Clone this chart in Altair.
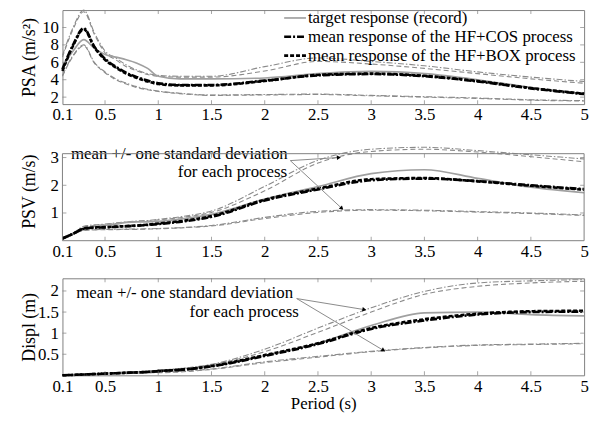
import altair as alt
import pandas as pd

# ---------------- data ----------------
T = [0.1, 0.2, 0.3, 0.4, 0.5, 0.6, 0.7, 0.8, 0.9, 1.0, 1.2, 1.5, 2.0, 2.5, 3.0, 3.5, 4.0, 4.5, 5.0]

psa_target   = [5.5, 7.3, 8.6, 7.6, 6.9, 6.6, 6.3, 5.9, 5.3, 4.4, 4.1, 4.1, 4.2, 4.7, 4.95, 4.7, 4.0, 3.1, 2.4]
psa_mean_cos = [5.2, 8.0, 9.9, 7.8, 6.4, 5.5, 4.8, 4.3, 3.9, 3.6, 3.4, 3.4, 3.9, 4.5, 4.65, 4.4, 3.8, 3.0, 2.35]
psa_mean_box = [5.0, 7.9, 9.8, 7.7, 6.3, 5.4, 4.7, 4.2, 3.8, 3.5, 3.35, 3.35, 3.85, 4.55, 4.7, 4.45, 3.85, 3.05, 2.4]
psa_up_cos   = [6.8, 10.0, 12.0, 9.4, 7.3, 6.5, 5.7, 5.1, 4.7, 4.5, 4.4, 4.4, 5.5, 6.5, 6.1, 5.6, 4.9, 4.3, 3.8]
psa_up_box   = [6.6, 9.8, 11.8, 9.2, 7.1, 6.3, 5.5, 5.0, 4.6, 4.4, 4.3, 4.3, 5.0, 6.1, 5.8, 5.3, 4.7, 4.1, 3.6]
psa_lo_cos   = [4.5, 6.8, 8.0, 6.0, 4.9, 4.1, 3.6, 3.2, 2.9, 2.7, 2.45, 2.25, 2.3, 2.35, 2.2, 2.05, 1.9, 1.7, 1.6]
psa_lo_box   = [4.4, 6.7, 7.9, 5.9, 4.8, 4.0, 3.5, 3.1, 2.85, 2.65, 2.4, 2.2, 2.25, 2.3, 2.15, 2.0, 1.85, 1.65, 1.55]

psv_target   = [0.09, 0.25, 0.42, 0.52, 0.56, 0.6, 0.66, 0.68, 0.68, 0.7, 0.78, 0.95, 1.5, 1.95, 2.42, 2.56, 2.25, 1.93, 1.73]
psv_mean_cos = [0.08, 0.25, 0.43, 0.47, 0.48, 0.5, 0.52, 0.54, 0.57, 0.6, 0.68, 0.86, 1.45, 1.85, 2.18, 2.24, 2.15, 2.0, 1.86]
psv_mean_box = [0.08, 0.25, 0.44, 0.48, 0.49, 0.51, 0.53, 0.55, 0.58, 0.62, 0.7, 0.89, 1.48, 1.88, 2.22, 2.26, 2.14, 1.98, 1.84]
psv_up_cos   = [0.1, 0.28, 0.52, 0.57, 0.6, 0.64, 0.68, 0.71, 0.73, 0.77, 0.86, 1.07, 1.96, 2.9, 3.3, 3.37, 3.25, 3.1, 2.95]
psv_up_box   = [0.1, 0.27, 0.5, 0.55, 0.58, 0.62, 0.66, 0.69, 0.71, 0.75, 0.83, 1.02, 1.8, 2.8, 3.22, 3.3, 3.2, 3.03, 2.85]
psv_lo_cos   = [0.07, 0.22, 0.38, 0.4, 0.41, 0.41, 0.42, 0.42, 0.43, 0.44, 0.47, 0.55, 0.84, 1.06, 1.12, 1.1, 1.05, 1.0, 0.93]
psv_lo_box   = [0.07, 0.22, 0.37, 0.39, 0.4, 0.4, 0.41, 0.41, 0.42, 0.43, 0.46, 0.53, 0.8, 1.02, 1.1, 1.08, 1.03, 0.98, 0.91]

sd_target    = [0.0, 0.01, 0.02, 0.03, 0.04, 0.05, 0.07, 0.08, 0.09, 0.11, 0.15, 0.22, 0.47, 0.76, 1.18, 1.48, 1.5, 1.44, 1.41]
sd_mean_cos  = [0.0, 0.01, 0.02, 0.03, 0.04, 0.05, 0.06, 0.07, 0.08, 0.1, 0.13, 0.21, 0.46, 0.74, 1.1, 1.3, 1.44, 1.5, 1.51]
sd_mean_box  = [0.0, 0.01, 0.02, 0.03, 0.04, 0.05, 0.06, 0.07, 0.08, 0.1, 0.13, 0.22, 0.48, 0.76, 1.12, 1.33, 1.46, 1.52, 1.53]
sd_up_cos    = [0.0, 0.01, 0.02, 0.04, 0.05, 0.06, 0.08, 0.09, 0.1, 0.12, 0.16, 0.26, 0.62, 1.12, 1.6, 1.99, 2.19, 2.24, 2.27]
sd_up_box    = [0.0, 0.01, 0.02, 0.03, 0.05, 0.06, 0.07, 0.08, 0.09, 0.11, 0.15, 0.25, 0.56, 1.02, 1.5, 1.92, 2.11, 2.19, 2.23]
sd_lo_cos    = [0.0, 0.01, 0.02, 0.03, 0.03, 0.04, 0.05, 0.05, 0.06, 0.07, 0.09, 0.15, 0.32, 0.45, 0.57, 0.66, 0.72, 0.74, 0.76]
sd_lo_box    = [0.0, 0.01, 0.02, 0.02, 0.03, 0.04, 0.04, 0.05, 0.06, 0.06, 0.08, 0.14, 0.3, 0.43, 0.56, 0.65, 0.71, 0.73, 0.75]

x_ticks = [0.1, 0.5, 1, 1.5, 2, 2.5, 3, 3.5, 4, 4.5, 5]
psa_ticks = [2, 4, 6, 8, 10]
psv_ticks = [1, 2, 3]
sd_ticks = [0.5, 1, 1.5, 2]

legend_labels = ["target response (record)",
                 "mean response of the HF+COS process",
                 "mean response of the HF+BOX process"]
note_line1 = "mean +/- one standard deviation"
note_line2 = "for each process"

# annotation anchors in data units (period, response)
psv_note1 = (0.18, 3.14)
psv_note2 = (2.21, 2.49)
psv_arrow_start = (2.24, 2.89)
psv_arrow_tips = [(2.69, 3.0), (2.72, 1.18)]
sd_note1 = (0.23, 1.96)
sd_note2 = (2.32, 1.49)
sd_arrow_start = (2.30, 1.82)
sd_arrow_tips = [(2.93, 1.56), (3.11, 0.60)]

# ---------------- styling ----------------
FONT = "Liberation Serif, Times New Roman, Tinos, DejaVu Serif, serif"
W = 527
GRAY_BOX = "#808080"
STY = {
    "up_cos":   dict(color="#8a8a8a", strokeWidth=1.1, strokeDash=[6, 2, 1.5, 2]),
    "lo_cos":   dict(color="#8a8a8a", strokeWidth=1.1, strokeDash=[6, 2, 1.5, 2]),
    "up_box":   dict(color="#8a8a8a", strokeWidth=1.1, strokeDash=[5, 3]),
    "lo_box":   dict(color="#8a8a8a", strokeWidth=1.1, strokeDash=[5, 3]),
    "target":   dict(color="#a0a0a0", strokeWidth=1.7),
    "mean_cos": dict(color="#000000", strokeWidth=2.6, strokeDash=[7, 2, 2, 2]),
    "mean_box": dict(color="#000000", strokeWidth=2.6, strokeDash=[4, 2]),
}
ORDER = ["up_cos", "lo_cos", "up_box", "lo_box", "target", "mean_cos", "mean_box"]
LABEL_EXPR = "datum.value + ''"


def frame(series):
    rows = []
    for name, vals in series.items():
        for t, v in zip(T, vals):
            rows.append({"T": t, "v": v, "series": name})
    return pd.DataFrame(rows)


def panel(series, ydomain, height, yticks, ytitle, xtitle, box_top, note=None, extra=None, view=None):
    df = frame(series)
    xs = alt.Scale(domain=[0.1, 5], nice=False, zero=False)
    ys = alt.Scale(domain=ydomain, nice=False, zero=False)
    xaxis = alt.Axis(values=x_ticks, labelExpr=LABEL_EXPR, labelFlush=False, labelOverlap=False,
                     title=xtitle, titlePadding=2, labelPadding=3)
    yaxis = alt.Axis(values=yticks, labelExpr=LABEL_EXPR, title=ytitle, minExtent=21, maxExtent=21,
                     titlePadding=3, labelPadding=4, labelOverlap=False, labelBound=False)

    def X(f):
        return alt.X(f, type="quantitative", scale=xs, axis=xaxis)

    def Y(f):
        return alt.Y(f, type="quantitative", scale=ys, axis=yaxis)

    layers = []
    for s in ORDER:
        layers.append(alt.Chart(df).transform_filter(alt.datum.series == s)
                      .mark_line(interpolate="monotone", **STY[s])
                      .encode(x=X("T"), y=Y("v")))
    # inward ticks (bottom/top/left/right)
    xt = pd.DataFrame({"T": x_ticks[1:-1], "lo": ydomain[0], "hi": box_top})
    yt = pd.DataFrame({"v": yticks, "l": 0.1, "r": 5.0})
    tk = dict(color=GRAY_BOX, thickness=1, size=4)
    layers.append(alt.Chart(xt).mark_tick(orient="vertical", yOffset=-2, **tk).encode(x=X("T"), y=Y("lo")))
    layers.append(alt.Chart(xt).mark_tick(orient="vertical", yOffset=2, **tk).encode(x=X("T"), y=Y("hi")))
    layers.append(alt.Chart(yt).mark_tick(orient="horizontal", xOffset=2, **tk).encode(y=Y("v"), x=X("l")))
    layers.append(alt.Chart(yt).mark_tick(orient="horizontal", xOffset=-2, **tk).encode(y=Y("v"), x=X("r")))

    if note is not None:
        n1, n2, start, tips, angles = note
        t1 = pd.DataFrame({"T": [n1[0]], "v": [n1[1]], "txt": [note_line1]})
        t2 = pd.DataFrame({"T": [n2[0]], "v": [n2[1]], "txt": [note_line2]})
        ar = pd.DataFrame({"T": [start[0]] * len(tips), "v": [start[1]] * len(tips),
                           "T2": [t[0] for t in tips], "v2": [t[1] for t in tips], "ang": angles})
        layers.append(alt.Chart(ar).mark_rule(color="#8a8a8a", strokeWidth=1)
                      .encode(x=X("T"), y=Y("v"), x2="T2", y2="v2"))
        layers.append(alt.Chart(ar).mark_point(shape="triangle", filled=True, color="black", size=22, opacity=1)
                      .encode(x=X("T2"), y=Y("v2"), angle=alt.Angle("ang:Q", scale=None)))
        layers.append(alt.Chart(t1).mark_text(align="left", baseline="middle", font=FONT, fontSize=17, color="black")
                      .encode(x=X("T"), y=Y("v"), text="txt:N"))
        layers.append(alt.Chart(t2).mark_text(align="right", baseline="middle", font=FONT, fontSize=17, color="black")
                      .encode(x=X("T"), y=Y("v"), text="txt:N"))
    if extra:
        layers.extend(extra)
    props = dict(width=W, height=height)
    if view is not None:
        props["view"] = view
    return alt.layer(*layers).properties(**props)


# legend for top panel (pixel layout of the legend block)
leg_y = [8, 27, 46]
leg_style = ["target", "mean_cos", "mean_box"]
legend_layers = []
for lab, yy, st in zip(legend_labels, leg_y, leg_style):
    legend_layers.append(alt.Chart().mark_rule(**STY[st])
                         .encode(x=alt.value(224), x2=alt.value(246), y=alt.value(yy)))
    legend_layers.append(alt.Chart().mark_text(align="left", baseline="middle", font=FONT,
                                               fontSize=17, color="black")
                         .encode(x=alt.value(248), y=alt.value(yy), text=alt.value(lab)))

p1 = panel({"up_cos": psa_up_cos, "lo_cos": psa_lo_cos, "up_box": psa_up_box, "lo_box": psa_lo_box,
            "target": psa_target, "mean_cos": psa_mean_cos, "mean_box": psa_mean_box},
           [1.2, 12.0], 95, psa_ticks, "PSA (m/s²)", None, 12.0, extra=legend_layers)

# PSV panel: box is drawn at 3.14, view extends above it
psv_box_top = 3.14
box_df = pd.DataFrame({"T": [0.1, 0.1, 0.1, 5.0], "T2": [5.0, 5.0, 0.1, 5.0],
                       "v": [psv_box_top, 0.0, 0.0, 0.0], "v2": [psv_box_top, 0.0, psv_box_top, psv_box_top]})
box_layer = (alt.Chart(box_df).mark_rule(color=GRAY_BOX, strokeWidth=1)
             .encode(x=alt.X("T:Q"), x2="T2", y=alt.Y("v:Q"), y2="v2"))

p2 = panel({"up_cos": psv_up_cos, "lo_cos": psv_lo_cos, "up_box": psv_up_box, "lo_box": psv_lo_box,
            "target": psv_target, "mean_cos": psv_mean_cos, "mean_box": psv_mean_box},
           [0, 100 / 28], 100, psv_ticks, "PSV (m/s)", None, psv_box_top,
           note=(psv_note1, psv_note2, psv_arrow_start, psv_arrow_tips, [86.5, 132.7]),
           extra=[box_layer],
           view=alt.ViewBackground(stroke="transparent"))

p3 = panel({"up_cos": sd_up_cos, "lo_cos": sd_lo_cos, "up_box": sd_up_box, "lo_box": sd_lo_box,
            "target": sd_target, "mean_cos": sd_mean_cos, "mean_box": sd_mean_box},
           [0, 2.3], 98, sd_ticks, "Displ (m)", "Period (s)", 2.3,
           note=(sd_note1, sd_note2, sd_arrow_start, sd_arrow_tips, [99.3, 120.9]))

chart = (alt.vconcat(p1, p2, p3, spacing=38, bounds="flush")
         .properties(padding={"left": 12, "top": -3, "right": 4, "bottom": 0})
         .configure_view(stroke=GRAY_BOX, strokeWidth=1)
         .configure_axis(labelFont=FONT, titleFont=FONT, labelFontSize=17, titleFontSize=18,
                         titleFontWeight="normal", labelColor="black", titleColor="black",
                         ticks=False, domain=False, grid=False, labelOverlap=False)
         .configure_axisX(titleFontSize=17))

chart.save("out.html", embed_options={"renderer": "svg", "actions": False})
